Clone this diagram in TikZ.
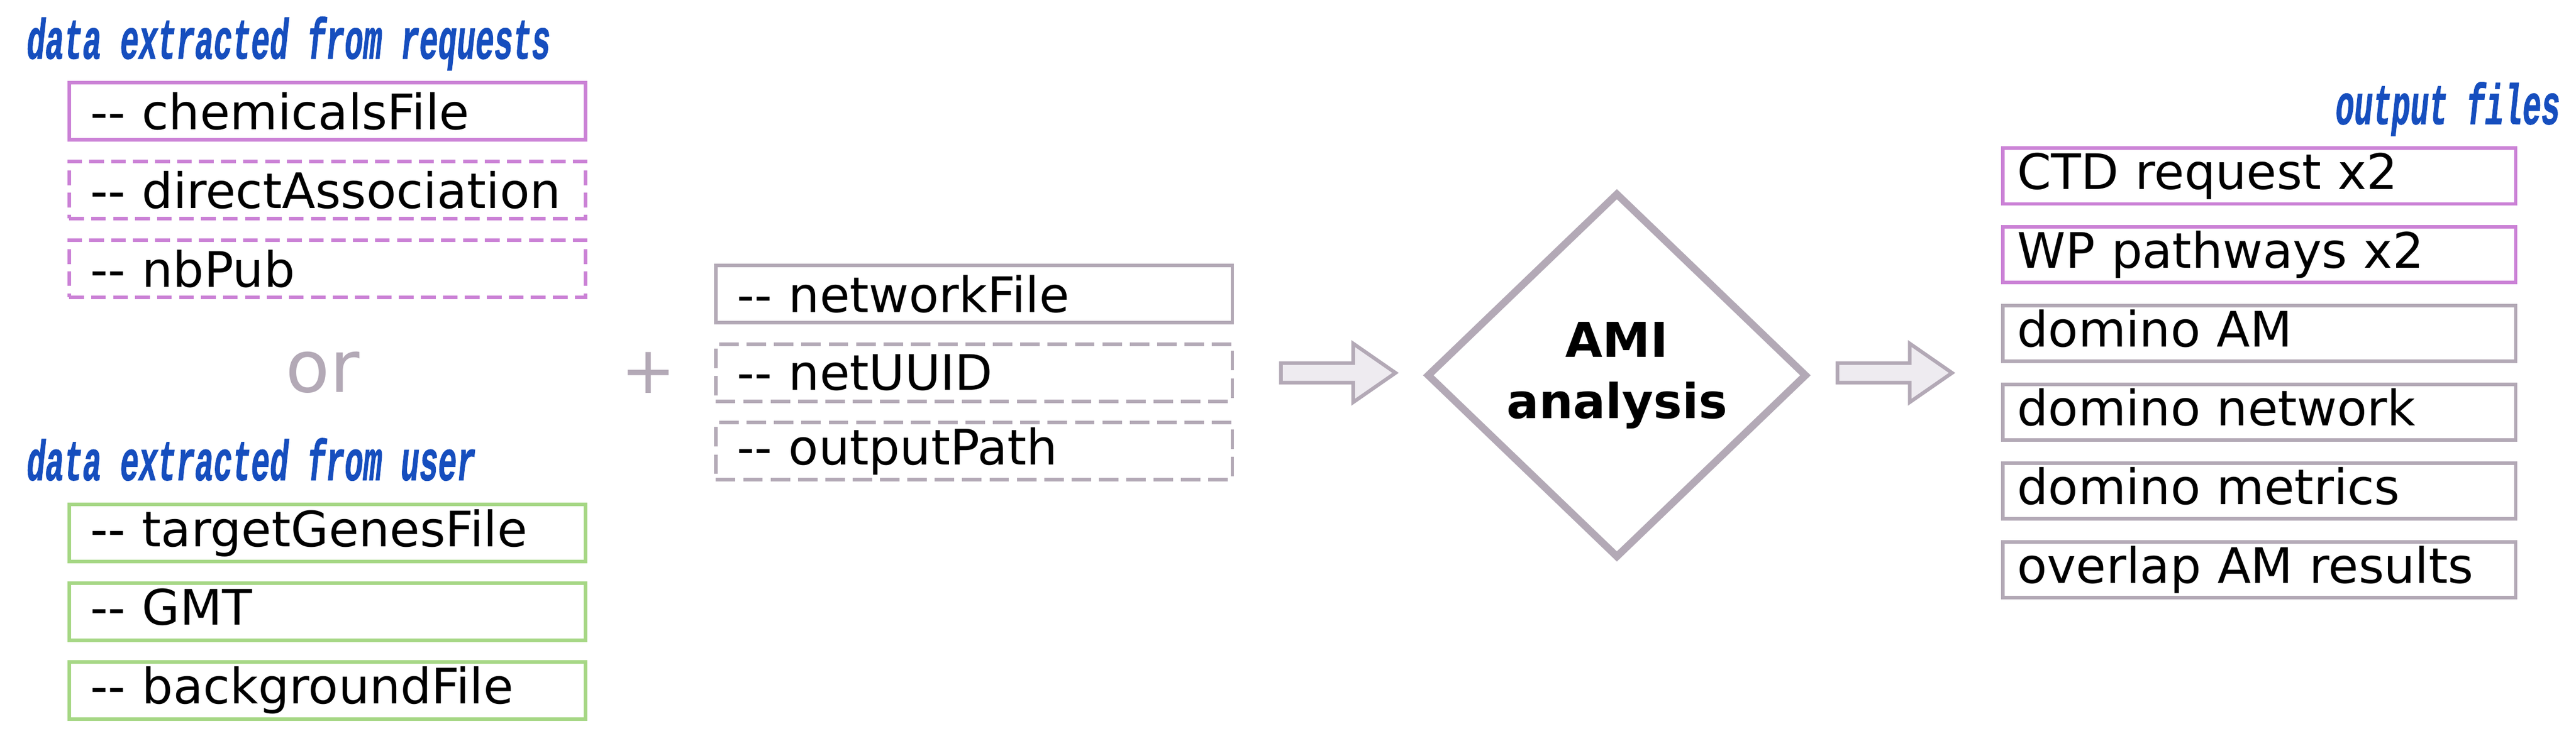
\documentclass[tikz,border=0pt]{standalone}
\usepackage{fontspec}
\setmainfont{DejaVu Sans}
\newfontfamily\labelfont{Liberation Mono}[BoldItalicFeatures={FakeBold=1.5}]
\usetikzlibrary{shapes.geometric}
\definecolor{reqcol}{RGB}{203,130,214}
\definecolor{usercol}{RGB}{166,215,133}
\definecolor{netcol}{RGB}{179,169,182}
\definecolor{arrowfill}{RGB}{238,235,240}
\definecolor{labelcol}{RGB}{22,78,190}
\newcommand{\squeeze}[1]{\scalebox{0.55}[1]{\labelfont\fontsize{33}{39}\selectfont\bfseries\itshape #1}}
\tikzset{
	filebox/.style={draw, line width=0.072cm, minimum height=1.17cm, inner xsep=0.435cm, inner ysep=0pt,
		text width=9.7cm, align=left, font=\fontsize{28.5}{34}\selectfont},
	reqbox/.style={filebox, draw=reqcol},
	userbox/.style={filebox, draw=usercol, text height=0.76cm, text depth=0.21cm},
	netbox/.style={filebox, draw=netcol},
	outbox/.style={filebox, text width=9.9cm, inner xsep=0.3cm, minimum height=1.14cm,
		text height=0.76cm, text depth=0.21cm},
	reqdash/.style={dash pattern=on 0.30cm off 0.15cm},
	netdash/.style={dash pattern=on 0.40cm off 0.16cm},
	grouplabel/.style={text=labelcol, inner sep=0pt},
	sign/.style={text=netcol, inner sep=0pt},
	fatarrow/.style={draw=netcol, fill=arrowfill, line width=0.075cm}
}

\begin{document}
\begin{tikzpicture}
	\useasboundingbox (0,0) rectangle (52.72,-15.17);

	% donnees des requetes
	\node[grouplabel, anchor=base west] (reqlabel) at (0.54,-1.20) {\squeeze{data extracted from requests}};
	\node[reqbox] (chem) at (6.70,-2.28) {-{}- chemicalsFile};
	\node[reqbox, reqdash] (direct) at (6.70,-3.89) {-{}- directAssociation};
	\node[reqbox, reqdash] (nbpub) at (6.70,-5.50) {-{}- nbPub};

	\node[sign, anchor=base, font=\fontsize{42}{50}\selectfont] (or) at (6.60,-8.03) {or};

	% donnees utilisateur
	\node[grouplabel, anchor=base west] (userlabel) at (0.54,-9.83) {\squeeze{data extracted from user}};
	\node[userbox] (target) at (6.70,-10.915) {-{}- targetGenesFile};
	\node[userbox] (gmt) at (6.70,-12.525) {-{}- GMT};
	\node[userbox] (bg) at (6.70,-14.135) {-{}- backgroundFile};

	\node[sign, font=\fontsize{38}{46}\selectfont] (plus) at (13.27,-7.63) {+};

	% reseau
	\node[netbox] (netfile) at (19.935,-6.02) {-{}- networkFile};
	\node[netbox, netdash] (netuuid) at (19.935,-7.63) {-{}- netUUID};
	\node[netbox, netdash] (outpath) at (19.935,-9.24) {-{}- outputPath};

	% analyse
	\node[diamond, draw=netcol, line width=0.15cm, minimum width=7.78cm, minimum height=7.48cm,
		inner sep=0pt, align=center, font=\fontsize{28}{35.6}\selectfont\bfseries] (ami) at (33.09,-7.685) {AMI\\analysis};

	% fleches
	\coordinate (a1) at (26.215,-7.635);
	\coordinate (a2) at (37.605,-7.635);
	\foreach \a in {a1,a2} {
		\draw[fatarrow] (\a) ++(0,0.20) -- ++(1.48,0) -- ++(0,0.40) -- ++(0.865,-0.60)
			-- ++(-0.865,-0.60) -- ++(0,0.40) -- ++(-1.48,0) -- cycle;
	}

	% fichiers de sortie
	\node[grouplabel, anchor=base east] (outlabel) at (52.40,-2.54) {\squeeze{output files}};
	\foreach \txt/\col [count=\i] in {CTD request x2/reqcol, WP pathways x2/reqcol, domino AM/netcol,
		domino network/netcol, domino metrics/netcol, overlap AM results/netcol} {
		\node[outbox, draw=\col] (out\i) at (46.235,{-3.605-1.612*(\i-1)}) {\txt};
	}
\end{tikzpicture}
\end{document}
